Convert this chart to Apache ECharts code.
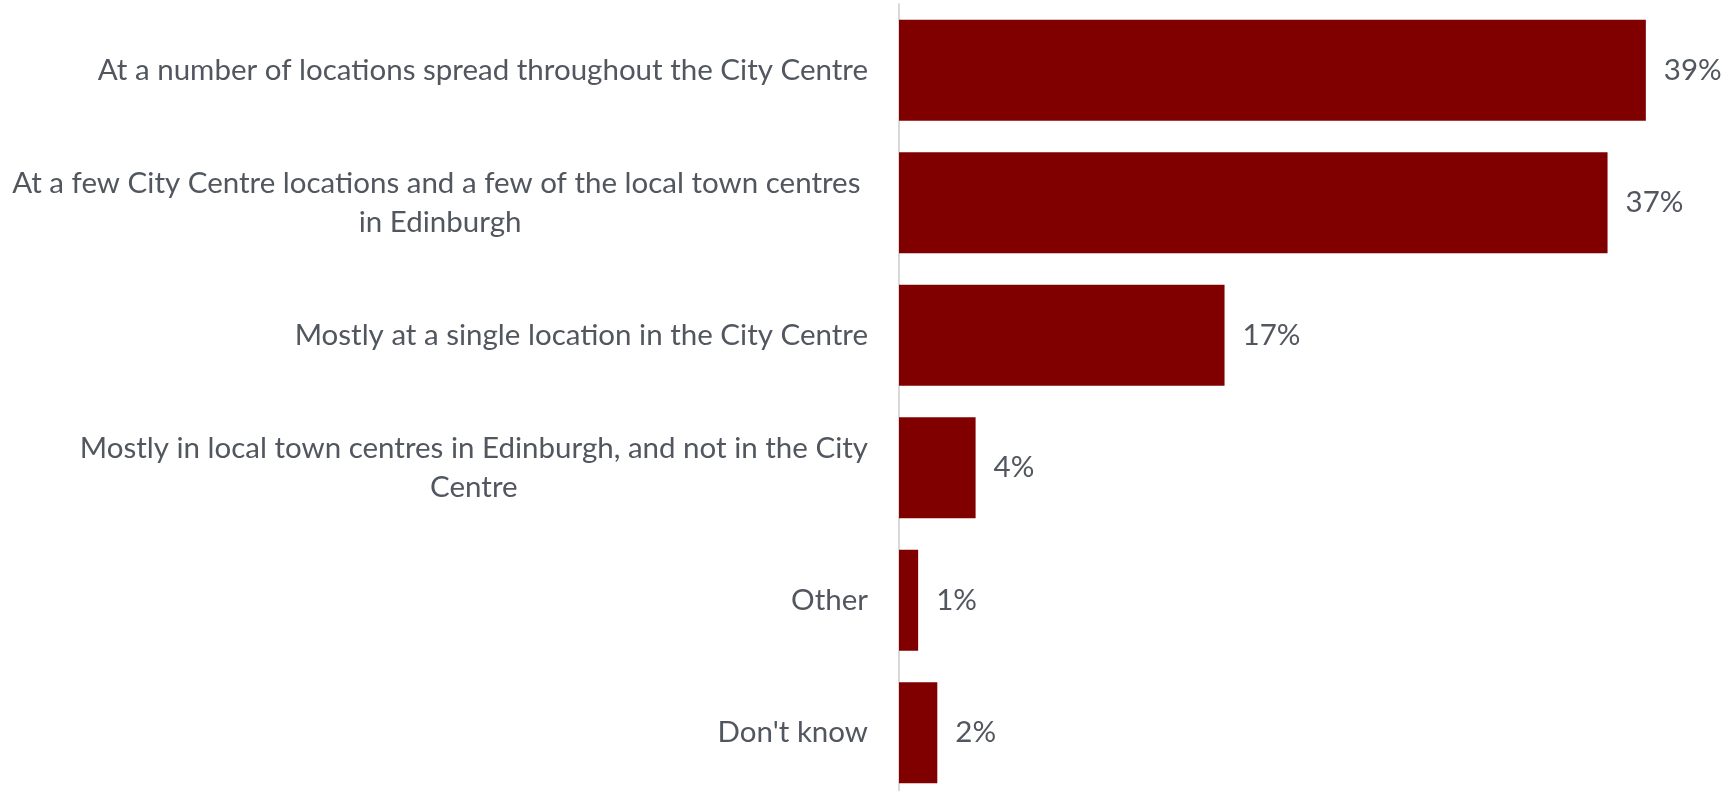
<!DOCTYPE html>
<html>
<head>
<meta charset="utf-8">
<script src="https://cdn.jsdelivr.net/npm/echarts@6/dist/echarts.min.js"></script>
<style>
  html, body { margin: 0; padding: 0; background: #ffffff; }
  #chart { width: 1727px; height: 791px; }
</style>
</head>
<body>
<div id="chart"></div>
<script>
// Answer options (top to bottom), split into display lines
const categories = [
  ['At a number of locations spread throughout the City Centre'],
  ['At a few City Centre locations and a few of the local town centres ', 'in Edinburgh'],
  ['Mostly at a single location in the City Centre'],
  ['Mostly in local town centres in Edinburgh, and not in the City', 'Centre'],
  ['Other'],
  ["Don't know"]
];
// Share of respondents, percent
const shares = [39, 37, 17, 4, 1, 2];

const TEXT = '#51565f';
const FONT = 'Lato, "Open Sans", sans-serif';
const FONT_SIZE = 29.5;

const chart = echarts.init(document.getElementById('chart'), null, { renderer: 'canvas' });

chart.setOption({
  animation: false,
  backgroundColor: '#ffffff',
  grid: {
    left: 899, right: 62, top: 4, bottom: -8,
    containLabel: false,
    outerBoundsMode: 'none'
  },
  xAxis: {
    type: 'value',
    min: 0,
    max: 40,
    show: false,
    splitLine: { show: false }
  },
  yAxis: {
    type: 'category',
    inverse: true,
    data: categories.map(lines => lines.join('\n')),
    axisLine: { show: true, lineStyle: { color: '#d9d9d9', width: 2 } },
    axisTick: { show: false },
    axisLabel: {
      margin: 31,
      align: 'right',
      formatter: v => v.split('\n').map(l => '{c|' + l + '}').join('\n'),
      rich: {
        c: {
          align: 'center',
          color: TEXT,
          fontFamily: FONT,
          fontSize: FONT_SIZE,
          lineHeight: 39.5
        }
      }
    }
  },
  series: [{
    type: 'bar',
    data: shares,
    barWidth: 101,
    itemStyle: { color: '#800000' },
    label: {
      show: true,
      position: 'right',
      distance: 18,
      formatter: p => p.value + '%',
      color: TEXT,
      fontFamily: FONT,
      fontSize: FONT_SIZE
    }
  }]
});
</script>
</body>
</html>
